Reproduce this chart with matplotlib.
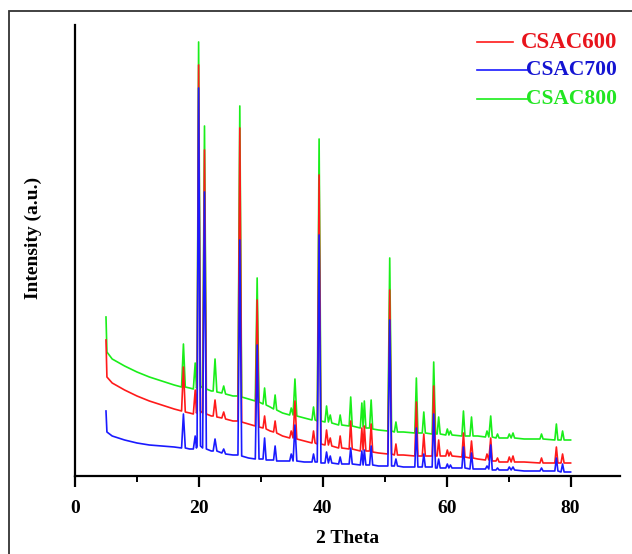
import numpy as np
import matplotlib
matplotlib.use("Agg")
import matplotlib.pyplot as plt
from matplotlib.patches import Rectangle
from matplotlib.lines import Line2D

plt.rcParams['font.family'] = ['Liberation Serif', 'DejaVu Serif']
plt.rcParams['font.weight'] = 'bold'

# XRD patterns of the three activated carbons (2 theta in degrees, counts in a.u.)
two_theta = [
    5.0, 5.15, 6.0, 8.0, 10.0, 12.0, 14.0, 16.0, 17.2, 17.5, 17.8, 18.5,
    19.1, 19.4, 19.6, 19.7, 19.95, 20.25, 20.6, 20.9, 21.2, 22.0, 22.3, 22.6,
    22.9, 23.7, 24.0, 24.3, 25.5, 26.3, 26.6, 26.9, 28.0, 29.1, 29.4, 29.7,
    30.35, 30.6, 30.85, 31.5, 32.05, 32.3, 32.55, 33.5, 34.65, 34.9, 35.2, 35.5,
    35.8, 37.0, 38.25, 38.5, 38.75, 39.1, 39.4, 39.7, 40.35, 40.6, 40.9, 41.2,
    41.45, 42.55, 42.8, 43.05, 44.25, 44.5, 44.75, 46.05, 46.3, 46.5, 46.7, 46.95,
    47.55, 47.8, 48.05, 49.0, 50.5, 50.8, 51.1, 51.55, 51.8, 52.05, 53.0, 54.85,
    55.1, 55.35, 56.05, 56.3, 56.55, 57.65, 57.9, 58.2, 58.45, 58.7, 58.95, 59.85,
    60.1, 60.35, 60.6, 60.85, 62.45, 62.7, 62.95, 63.75, 64.0, 64.25, 65.0, 66.25,
    66.5, 66.8, 67.1, 67.35, 67.95, 68.2, 68.45, 69.85, 70.1, 70.4, 70.7, 70.95,
    72.5, 75.05, 75.3, 75.55, 77.45, 77.7, 77.95, 78.45, 78.7, 78.95, 80.0,
]

csac800 = [
    159, 124, 117, 110, 104, 99, 95, 91, 89, 132, 89, 88,
    87, 113, 88, 90, 434, 90, 88, 350, 87, 85, 85, 117,
    84, 83, 90, 82, 80, 80, 370, 79, 77, 75, 198, 74,
    72, 88, 71, 69, 67, 81, 66, 63, 61, 68, 61, 97,
    60, 58, 56, 69, 56, 55, 337, 55, 54, 70, 54, 61,
    53, 51, 61, 51, 50, 79, 50, 48, 73, 49, 75, 48,
    48, 76, 47, 46, 45, 218, 45, 44, 54, 44, 44, 43,
    98, 43, 43, 64, 43, 42, 114, 42, 42, 59, 42, 41,
    47, 41, 45, 41, 40, 65, 40, 40, 59, 40, 40, 39,
    45, 39, 60, 39, 38, 42, 38, 38, 42, 38, 43, 38,
    37, 37, 42, 37, 36, 52, 36, 36, 45, 36, 36,
]

csac600 = [
    136, 99, 93, 86, 80, 75, 71, 67, 65, 109, 64, 63,
    62, 86, 63, 65, 411, 65, 63, 326, 62, 60, 60, 76,
    59, 58, 64, 57, 55, 55, 348, 54, 52, 50, 176, 49,
    48, 60, 47, 45, 44, 55, 43, 40, 38, 45, 38, 75,
    37, 35, 33, 45, 33, 32, 301, 32, 31, 46, 31, 38,
    30, 28, 40, 28, 27, 55, 27, 25, 48, 26, 50, 25,
    25, 52, 24, 23, 22, 186, 22, 21, 32, 21, 21, 20,
    74, 20, 20, 42, 20, 20, 90, 20, 20, 36, 20, 20,
    26, 20, 24, 20, 19, 43, 19, 18, 35, 18, 17, 16,
    22, 16, 38, 15, 15, 18, 14, 14, 19, 14, 20, 14,
    14, 13, 18, 13, 13, 29, 13, 13, 22, 13, 13,
]

csac700 = [
    65, 44, 40, 36, 33, 31, 30, 29, 28, 62, 28, 27,
    27, 40, 28, 30, 388, 30, 28, 284, 27, 25, 25, 37,
    25, 23, 27, 22, 21, 21, 236, 20, 18, 17, 131, 17,
    17, 38, 16, 16, 16, 30, 15, 15, 15, 22, 15, 51,
    15, 14, 14, 22, 14, 14, 241, 13, 13, 24, 13, 20,
    13, 12, 19, 12, 12, 28, 12, 11, 25, 11, 26, 11,
    11, 30, 11, 10, 10, 156, 10, 10, 17, 10, 9, 9,
    48, 9, 9, 22, 9, 9, 62, 8, 8, 17, 8, 8,
    12, 8, 11, 8, 8, 29, 8, 7, 23, 7, 7, 7,
    10, 7, 31, 6, 6, 8, 6, 6, 9, 6, 9, 6,
    5, 5, 8, 5, 5, 18, 5, 4, 12, 4, 4,
]

labels = ["CSAC600", "CSAC700", "CSAC800"]
colors = ["#ff1a1a", "#1a1aff", "#1aee1a"]
text_colors = ["#e8141c", "#1414d2", "#22e622"]

fig = plt.figure(figsize=(6.32, 5.54), dpi=100)
ax = fig.add_axes([0.1187, 0.1408, 0.8626, 0.8141])

# green first, blue drawn on top
ax.plot(two_theta, csac800, color=colors[2], lw=1.2, zorder=2)
ax.plot(two_theta, csac600, color=colors[0], lw=1.2, zorder=3)
ax.plot(two_theta, csac700, color=colors[1], lw=1.2, zorder=4)

ax.set_xlim(0, 88)
ax.set_ylim(0, 451)
ax.set_xticks([0, 20, 40, 60, 80])
ax.set_xticks([10, 30, 50, 70], minor=True)
ax.set_yticks([])
for side in ["top", "right"]:
    ax.spines[side].set_visible(False)
for side in ["left", "bottom"]:
    ax.spines[side].set_linewidth(1.6)
ax.tick_params(axis='x', which='major', direction='out', length=8, width=1.6,
               labelsize=14, pad=9)
ax.tick_params(axis='x', which='minor', direction='out', length=4, width=1.4)

ax.set_xlabel("2 Theta", fontsize=14, fontweight='bold', va='center')
ax.xaxis.set_label_coords(0.5, -0.1375)
ax.set_ylabel("Intensity (a.u.)", fontsize=14, fontweight='bold', va='center')
ax.yaxis.set_label_coords(-0.077, 0.528)

# legend: right-aligned labels with short line keys
W, H = 632, 554
rows = [(42, 477, 513, 16.5), (70, 477, 527, 15.5), (99, 477, 527, 15.5)]
for (yp, x0, x1, fs), lab, c, tc in zip(rows, labels, colors, text_colors):
    fig.lines.append(Line2D([x0 / W, x1 / W], [1 - yp / H, 1 - yp / H],
                            transform=fig.transFigure, color=c, lw=1.2))
    fig.text(617 / W, 1 - yp / H, lab, color=tc, fontsize=fs,
             fontweight='bold', ha='right', va='center')

# outer frame
fig.patches.append(Rectangle((9 / W, -0.2), 1.5, 1.2 - 11 / H,
                             transform=fig.transFigure, fill=False,
                             edgecolor='#333333', lw=1.3))

fig.savefig("out.png", dpi=100)
